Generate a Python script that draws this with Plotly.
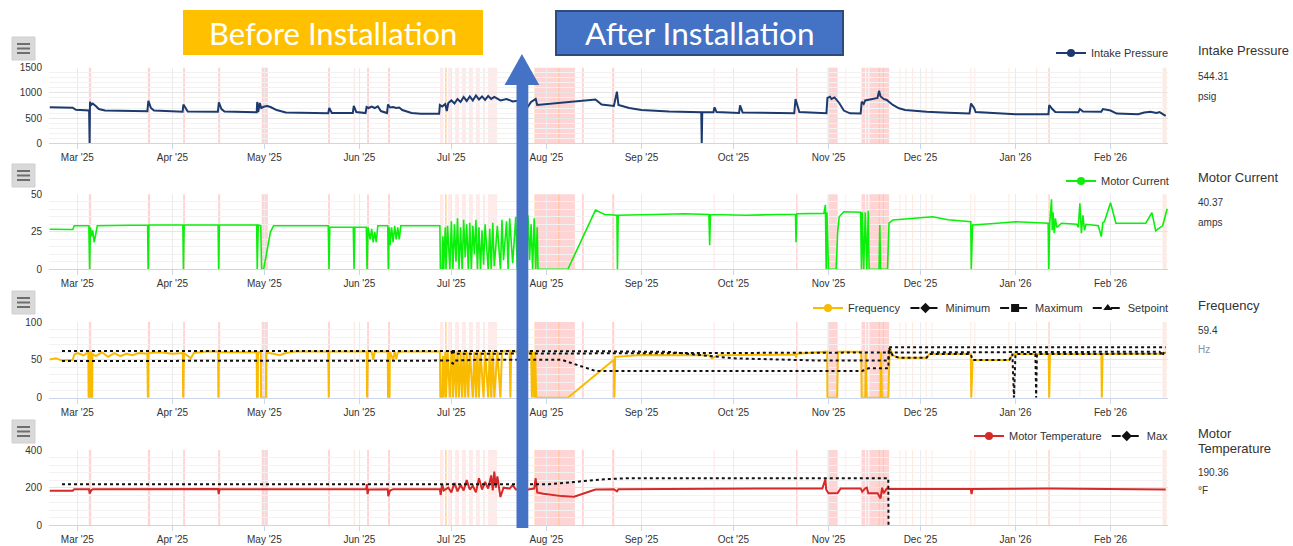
import plotly.graph_objects as go

W, H = 1293, 546
def px(x): return x / W
def py(y): return 1 - y / H

X_RANGE = ["2025-02-19 18:00", "2026-02-19 18:00"]

# ---------------- data ----------------
intake_pressure = [
    ("2025-02-20", 714), ("2025-02-24", 712), ("2025-02-27 12:00", 705), ("2025-02-28 12:00", 665),
    ("2025-03-04", 655), ("2025-03-04 20:00", 650), ("2025-03-05 00:00", 0), ("2025-03-05 03:00", 825),
    ("2025-03-05 12:00", 760), ("2025-03-06", 790), ("2025-03-07", 740), ("2025-03-08", 680),
    ("2025-03-10", 650), ("2025-03-23 20:00", 635), ("2025-03-24 04:00", 840), ("2025-03-25", 700),
    ("2025-03-26", 650), ("2025-04-04 08:00", 625), ("2025-04-04 14:00", 770), ("2025-04-05 12:00", 680),
    ("2025-04-06", 630), ("2025-04-15 20:00", 625), ("2025-04-16 04:00", 810), ("2025-04-17", 680),
    ("2025-04-18", 630), ("2025-04-28 12:00", 615), ("2025-04-28 16:00", 820), ("2025-04-29", 620),
    ("2025-04-29 12:00", 800), ("2025-04-30", 700), ("2025-05-01", 730), ("2025-05-02", 740),
    ("2025-05-03", 720), ("2025-05-05", 660), ("2025-05-08", 610), ("2025-05-21 20:00", 595),
    ("2025-05-22 04:00", 700), ("2025-05-22 16:00", 640), ("2025-05-23", 600), ("2025-05-29 20:00", 600),
    ("2025-05-30 04:00", 740), ("2025-05-31", 620), ("2025-06-03", 600), ("2025-06-03 08:00", 720),
    ("2025-06-04", 700), ("2025-06-05", 730), ("2025-06-06", 700), ("2025-06-07", 735),
    ("2025-06-08", 640), ("2025-06-10", 600), ("2025-06-10 08:00", 770), ("2025-06-11", 710),
    ("2025-06-12", 720), ("2025-06-13", 700), ("2025-06-14", 710), ("2025-06-15", 660),
    ("2025-06-18", 600), ("2025-06-21", 585), ("2025-06-27", 585), ("2025-06-27 06:00", 760),
    ("2025-06-28", 730), ("2025-06-29", 780), ("2025-06-29 12:00", 640), ("2025-06-30", 800),
    ("2025-07-01", 850), ("2025-07-02", 790), ("2025-07-03", 880), ("2025-07-04", 820),
    ("2025-07-05", 920), ("2025-07-06", 840), ("2025-07-07", 930), ("2025-07-08", 850),
    ("2025-07-09", 950), ("2025-07-10", 870), ("2025-07-11", 930), ("2025-07-12", 860),
    ("2025-07-13", 940), ("2025-07-14", 880), ("2025-07-15", 920), ("2025-07-17", 850),
    ("2025-07-19", 880), ("2025-07-21", 830), ("2025-07-23", 850), ("2025-07-25", 790),
    ("2025-07-26", 730), ("2025-07-27", 820), ("2025-07-28 12:00", 880), ("2025-07-29", 760),
    ("2025-08-17", 870), ("2025-08-19", 770), ("2025-08-23", 740), ("2025-08-24", 1024),
    ("2025-08-24 12:00", 760), ("2025-08-28", 700), ("2025-09-01", 660), ("2025-09-10", 630),
    ("2025-09-20 12:00", 615), ("2025-09-20 16:00", 0), ("2025-09-20 20:00", 615), ("2025-09-24 12:00", 615),
    ("2025-09-24 20:00", 714), ("2025-09-25 12:00", 620), ("2025-10-02 20:00", 600), ("2025-10-03 04:00", 754),
    ("2025-10-04", 610), ("2025-10-20 20:00", 595), ("2025-10-21 06:00", 879), ("2025-10-22 12:00", 620),
    ("2025-10-31 08:00", 595), ("2025-10-31 16:00", 900), ("2025-11-01 12:00", 925), ("2025-11-02", 880),
    ("2025-11-03", 910), ("2025-11-04 12:00", 800), ("2025-11-06", 650), ("2025-11-08", 595),
    ("2025-11-11 12:00", 590), ("2025-11-11 20:00", 825), ("2025-11-12 12:00", 780), ("2025-11-13", 850),
    ("2025-11-14", 860), ("2025-11-16", 880), ("2025-11-17", 900), ("2025-11-17 12:00", 1040),
    ("2025-11-18", 930), ("2025-11-19", 880), ("2025-11-20", 860), ("2025-11-22", 760),
    ("2025-11-24", 694), ("2025-11-26", 660), ("2025-11-28", 650), ("2025-12-03", 627),
    ("2025-12-10", 607), ("2025-12-17", 590), ("2025-12-17 12:00", 790), ("2025-12-18 12:00", 700),
    ("2025-12-19", 620), ("2025-12-26", 590), ("2026-01-01", 575), ("2026-01-11 18:00", 575),
    ("2026-01-12", 760), ("2026-01-13", 680), ("2026-01-14", 620), ("2026-01-21 12:00", 615),
    ("2026-01-22", 680), ("2026-01-23", 630), ("2026-01-29", 625), ("2026-01-29 12:00", 680),
    ("2026-02-01", 650), ("2026-02-03", 590), ("2026-02-10", 575), ("2026-02-12", 610),
    ("2026-02-14", 625), ("2026-02-16", 600), ("2026-02-17", 620), ("2026-02-19", 544.31),
]

motor_current = [
    ("2025-02-20", 26.7), ("2025-02-27 12:00", 26.5), ("2025-02-28", 29), ("2025-03-04 18:00", 29),
    ("2025-03-05 00:00", 0), ("2025-03-05 06:00", 28), ("2025-03-05 18:00", 22), ("2025-03-06", 26),
    ("2025-03-06 12:00", 18), ("2025-03-07", 24), ("2025-03-07 12:00", 29), ("2025-03-23 22:00", 29.5),
    ("2025-03-24 02:00", 0), ("2025-03-24 08:00", 29.5), ("2025-04-04 10:00", 29.5), ("2025-04-04 14:00", 0),
    ("2025-04-04 20:00", 29.5), ("2025-04-15 22:00", 29.5), ("2025-04-16 02:00", 0), ("2025-04-16 08:00", 29.5),
    ("2025-04-28 12:00", 29.5), ("2025-04-28 16:00", 0), ("2025-04-29", 29.5), ("2025-04-29 20:00", 29),
    ("2025-04-30 02:00", 0), ("2025-04-30 18:00", 0), ("2025-05-03", 25), ("2025-05-04", 29),
    ("2025-05-21 20:00", 29), ("2025-05-22 02:00", 0), ("2025-05-22 08:00", 28), ("2025-05-30 00:00", 28),
    ("2025-05-30 06:00", 0), ("2025-05-30 12:00", 28), ("2025-06-03 06:00", 28), ("2025-06-03 12:00", 0),
    ("2025-06-03 20:00", 28), ("2025-06-04 12:00", 20), ("2025-06-05", 27), ("2025-06-05 12:00", 18),
    ("2025-06-06", 25), ("2025-06-06 12:00", 18), ("2025-06-07", 29), ("2025-06-10 06:00", 29),
    ("2025-06-10 10:00", 0), ("2025-06-10 18:00", 28), ("2025-06-11", 16), ("2025-06-11 12:00", 28),
    ("2025-06-12", 18), ("2025-06-12 12:00", 29), ("2025-06-13", 20), ("2025-06-13 12:00", 28),
    ("2025-06-14", 20), ("2025-06-14 12:00", 29), ("2025-06-27 06:00", 29), ("2025-06-27 10:00", 0),
    ("2025-06-28", 0), ("2025-06-28 06:00", 22), ("2025-06-28 12:00", 0), ("2025-06-29", 28),
    ("2025-06-29 06:00", 0), ("2025-06-29 18:00", 29), ("2025-06-30 12:00", 0), ("2025-07-01", 32),
    ("2025-07-01 12:00", 0), ("2025-07-02", 30), ("2025-07-02 12:00", 5), ("2025-07-03", 34),
    ("2025-07-03 12:00", 0), ("2025-07-04", 28), ("2025-07-04 12:00", 0), ("2025-07-05", 33),
    ("2025-07-05 12:00", 8), ("2025-07-06", 30), ("2025-07-06 12:00", 0), ("2025-07-07", 31),
    ("2025-07-07 12:00", 0), ("2025-07-08", 29), ("2025-07-08 12:00", 10), ("2025-07-09", 33),
    ("2025-07-09 12:00", 0), ("2025-07-10", 28), ("2025-07-10 12:00", 0), ("2025-07-11", 26),
    ("2025-07-11 12:00", 3), ("2025-07-12", 30), ("2025-07-13", 0), ("2025-07-13 12:00", 27),
    ("2025-07-14", 0), ("2025-07-14 12:00", 31), ("2025-07-15", 2), ("2025-07-16", 29),
    ("2025-07-17", 0), ("2025-07-17 12:00", 33), ("2025-07-18", 6), ("2025-07-19", 32),
    ("2025-07-19 12:00", 0), ("2025-07-20", 34), ("2025-07-21", 4), ("2025-07-22", 35),
    ("2025-07-22 12:00", 0), ("2025-07-23", 30), ("2025-07-24", 2), ("2025-07-24 12:00", 33),
    ("2025-07-25", 0), ("2025-07-26", 36), ("2025-07-26 12:00", 6), ("2025-07-27", 30),
    ("2025-07-27 12:00", 0), ("2025-07-28", 34), ("2025-07-28 12:00", 0), ("2025-07-29", 28),
    ("2025-07-29 06:00", 0), ("2025-08-08", 0), ("2025-08-17", 39.5), ("2025-08-20", 36.5),
    ("2025-08-24", 36), ("2025-08-24 04:00", 0), ("2025-08-24 10:00", 36), ("2025-09-05", 36.5),
    ("2025-09-15", 37), ("2025-09-23", 36.5), ("2025-09-23 06:00", 16), ("2025-09-23 12:00", 36.5),
    ("2025-10-05", 36), ("2025-10-15", 36.5), ("2025-10-21 06:00", 36.5), ("2025-10-21 10:00", 18),
    ("2025-10-21 16:00", 37), ("2025-10-30 12:00", 37.3), ("2025-10-31", 43), ("2025-10-31 06:00", 0),
    ("2025-10-31 12:00", 38), ("2025-11-01", 0), ("2025-11-03 12:00", 0), ("2025-11-04", 25),
    ("2025-11-04 12:00", 35), ("2025-11-06", 38.4), ("2025-11-11 12:00", 38), ("2025-11-11 18:00", 0),
    ("2025-11-12", 38), ("2025-11-12 12:00", 0), ("2025-11-13", 38), ("2025-11-13 12:00", 0),
    ("2025-11-14", 39), ("2025-11-14 06:00", 0), ("2025-11-17 12:00", 0), ("2025-11-17 18:00", 29.5),
    ("2025-11-18", 0), ("2025-11-20 06:00", 0), ("2025-11-20 18:00", 30.7), ("2025-11-22", 32.9),
    ("2025-11-28", 34), ("2025-12-05", 35), ("2025-12-10", 33), ("2025-12-16", 31.7),
    ("2025-12-17 10:00", 31.7), ("2025-12-17 14:00", 0), ("2025-12-18", 29.5), ("2025-12-25", 30.5),
    ("2026-01-01", 31.7), ("2026-01-11 16:00", 30.7), ("2026-01-11 20:00", 0), ("2026-01-12 04:00", 30),
    ("2026-01-12 18:00", 46.7), ("2026-01-13", 26), ("2026-01-13 06:00", 38), ("2026-01-13 16:00", 24),
    ("2026-01-14", 34), ("2026-01-14 12:00", 28), ("2026-01-16", 30.7), ("2026-01-21", 30),
    ("2026-01-21 12:00", 28), ("2026-01-22", 44), ("2026-01-22 12:00", 24), ("2026-01-23", 36),
    ("2026-01-23 12:00", 26), ("2026-01-24", 30), ("2026-01-28", 29), ("2026-01-29", 21.8),
    ("2026-01-29 12:00", 31), ("2026-01-30", 31.7), ("2026-02-01", 44.4), ("2026-02-02 18:00", 30.7),
    ("2026-02-12 12:00", 30.7), ("2026-02-14 12:00", 37.8), ("2026-02-15 18:00", 25.7), ("2026-02-16 12:00", 27),
    ("2026-02-18", 29), ("2026-02-19 12:00", 40.37),
]

frequency = [
    ("2025-02-20", 50.5), ("2025-02-22", 52), ("2025-02-24", 49), ("2025-02-27 12:00", 50),
    ("2025-02-28", 57), ("2025-03-01", 59), ("2025-03-03", 56), ("2025-03-04 14:00", 60),
    ("2025-03-04 16:00", 0), ("2025-03-05", 0), ("2025-03-05 04:00", 60), ("2025-03-05 12:00", 60),
    ("2025-03-05 14:00", 0), ("2025-03-05 20:00", 0), ("2025-03-05 22:00", 58), ("2025-03-07", 55),
    ("2025-03-09", 60), ("2025-03-11", 54), ("2025-03-13", 59), ("2025-03-15", 55),
    ("2025-03-17", 58), ("2025-03-19", 56), ("2025-03-21", 59), ("2025-03-23 20:00", 58),
    ("2025-03-24", 0), ("2025-03-24 04:00", 59), ("2025-03-28", 60), ("2025-04-01", 58),
    ("2025-04-04 10:00", 59), ("2025-04-04 12:00", 0), ("2025-04-04 18:00", 59), ("2025-04-07", 52),
    ("2025-04-08", 59), ("2025-04-12", 61), ("2025-04-15 22:00", 61), ("2025-04-16", 0),
    ("2025-04-16 04:00", 60), ("2025-04-22", 60), ("2025-04-28 12:00", 60), ("2025-04-28 14:00", 0),
    ("2025-04-28 20:00", 0), ("2025-04-28 22:00", 60), ("2025-04-29 20:00", 60), ("2025-04-29 22:00", 0),
    ("2025-05-01 12:00", 0), ("2025-05-01 14:00", 60), ("2025-05-04", 58), ("2025-05-06", 56),
    ("2025-05-08", 59), ("2025-05-11", 61), ("2025-05-21 20:00", 61), ("2025-05-22", 0),
    ("2025-05-22 04:00", 61), ("2025-06-03 10:00", 61), ("2025-06-03 12:00", 0), ("2025-06-03 18:00", 61),
    ("2025-06-05", 61), ("2025-06-05 12:00", 50), ("2025-06-06", 61), ("2025-06-10 06:00", 61),
    ("2025-06-10 08:00", 0), ("2025-06-10 20:00", 0), ("2025-06-10 22:00", 61), ("2025-06-12", 50),
    ("2025-06-12 12:00", 61), ("2025-06-13", 51), ("2025-06-13 12:00", 60), ("2025-06-15", 61),
    ("2025-06-27 06:00", 61), ("2025-06-27 10:00", 0), ("2025-06-28", 0), ("2025-06-28 06:00", 55),
    ("2025-06-28 12:00", 0), ("2025-06-29", 61), ("2025-06-29 06:00", 0), ("2025-06-29 18:00", 62),
    ("2025-06-30 12:00", 0), ("2025-07-01", 62), ("2025-07-01 08:00", 56), ("2025-07-01 12:00", 0),
    ("2025-07-02", 61), ("2025-07-02 12:00", 0), ("2025-07-03", 62), ("2025-07-03 12:00", 0),
    ("2025-07-04", 61), ("2025-07-04 12:00", 0), ("2025-07-05", 62), ("2025-07-05 12:00", 0),
    ("2025-07-06", 61), ("2025-07-06 12:00", 0), ("2025-07-07", 62), ("2025-07-08", 0),
    ("2025-07-08 12:00", 61), ("2025-07-09", 0), ("2025-07-09 12:00", 62), ("2025-07-10", 0),
    ("2025-07-10 12:00", 61), ("2025-07-11 12:00", 0), ("2025-07-12", 62), ("2025-07-13", 0),
    ("2025-07-13 12:00", 61), ("2025-07-14", 0), ("2025-07-14 12:00", 62), ("2025-07-15", 0),
    ("2025-07-16", 62), ("2025-07-17", 0), ("2025-07-17 12:00", 61), ("2025-07-20", 62),
    ("2025-07-20 06:00", 0), ("2025-07-20 12:00", 61), ("2025-07-24", 61), ("2025-07-24 06:00", 0),
    ("2025-07-24 12:00", 61), ("2025-07-27", 61), ("2025-07-27 06:00", 0), ("2025-07-27 12:00", 61),
    ("2025-07-28", 0), ("2025-07-28 08:00", 61), ("2025-07-28 16:00", 0), ("2025-08-08", 0),
    ("2025-08-23", 50), ("2025-08-23 04:00", 0), ("2025-08-23 10:00", 54), ("2025-08-26", 54.5),
    ("2025-09-01", 56.4), ("2025-09-23", 56), ("2025-09-24", 52), ("2025-09-26", 56),
    ("2025-10-21 06:00", 57), ("2025-10-21 10:00", 53), ("2025-10-21 16:00", 58), ("2025-10-31 14:00", 60.8),
    ("2025-10-31 16:00", 0), ("2025-11-03 20:00", 0), ("2025-11-04 02:00", 60.8), ("2025-11-11 16:00", 60.8),
    ("2025-11-11 20:00", 0), ("2025-11-13", 0), ("2025-11-13 04:00", 60.8), ("2025-11-13 10:00", 0),
    ("2025-11-18", 0), ("2025-11-18 04:00", 60.8), ("2025-11-18 10:00", 0), ("2025-11-20 12:00", 0),
    ("2025-11-21", 66), ("2025-11-22", 56), ("2025-11-24", 52.8), ("2025-12-03", 52.8),
    ("2025-12-04", 57.7), ("2025-12-17 10:00", 57.7), ("2025-12-17 14:00", 0), ("2025-12-18", 49.8),
    ("2025-12-30", 49.8), ("2025-12-31", 57.7), ("2026-01-11 20:00", 57.7), ("2026-01-12", 0),
    ("2026-01-12 06:00", 57.7), ("2026-01-29", 57.7), ("2026-01-29 04:00", 0), ("2026-01-29 10:00", 57.7),
    ("2026-02-17", 58), ("2026-02-19", 59.4),
]

freq_minimum = [
    ("2025-02-24", 48.5), ("2025-06-06", 48.5), ("2025-06-30", 49), ("2025-07-01 12:00", 45),
    ("2025-07-02", 49), ("2025-07-09", 50), ("2025-08-06", 50), ("2025-08-17", 35.3),
    ("2025-11-12", 35.3), ("2025-11-14", 38.8), ("2025-11-20 12:00", 38.8), ("2025-11-20 18:00", 66),
    ("2025-11-22", 55), ("2025-11-24", 52.8), ("2025-12-03", 52.8), ("2025-12-04", 57.7),
    ("2025-12-17 10:00", 57.7), ("2025-12-18", 49.8), ("2025-12-30", 49.8), ("2025-12-31", 57.7),
    ("2025-12-31 12:00", 0), ("2026-01-01", 57.7), ("2026-01-07 12:00", 57.7), ("2026-01-07 18:00", 0),
    ("2026-01-08", 57.7), ("2026-02-17", 58), ("2026-02-19", 59.4),
]

freq_maximum = [
    ("2025-02-24", 61.7), ("2025-07-01", 61.7), ("2025-08-15", 61.5), ("2025-09-10", 60.5),
    ("2025-10-01", 52), ("2025-10-30", 49), ("2025-11-20 12:00", 49), ("2025-11-20 18:00", 66.6),
    ("2026-02-19", 66.6),
]

freq_setpoint = [
    ("2025-07-01", 62), ("2025-07-01 08:00", 57), ("2025-07-01 16:00", 61), ("2025-07-02", 58),
    ("2026-02-17", 60.8), ("2026-02-18", 56), ("2026-02-18 12:00", 61), ("2026-02-19", 59),
]

motor_temperature = [
    ("2025-02-20", 184), ("2025-02-27 12:00", 184), ("2025-02-28", 192), ("2025-03-04 20:00", 192),
    ("2025-03-05", 168), ("2025-03-05 12:00", 185), ("2025-03-06", 192), ("2025-04-15 22:00", 193),
    ("2025-04-16 02:00", 166), ("2025-04-16 10:00", 192), ("2025-06-03 06:00", 192), ("2025-06-03 10:00", 219),
    ("2025-06-03 16:00", 166), ("2025-06-04", 190), ("2025-06-10 06:00", 192), ("2025-06-10 10:00", 155),
    ("2025-06-11", 185), ("2025-06-12", 192), ("2025-06-27 06:00", 192), ("2025-06-27 12:00", 161),
    ("2025-06-28", 219), ("2025-06-28 12:00", 185), ("2025-06-30", 200), ("2025-07-01", 175),
    ("2025-07-02", 225), ("2025-07-03", 180), ("2025-07-04", 215), ("2025-07-05", 185),
    ("2025-07-06", 240), ("2025-07-07", 190), ("2025-07-08", 210), ("2025-07-09", 175),
    ("2025-07-10", 250), ("2025-07-11", 190), ("2025-07-12", 230), ("2025-07-13", 195),
    ("2025-07-14", 265), ("2025-07-14 12:00", 185), ("2025-07-15", 285), ("2025-07-15 12:00", 200),
    ("2025-07-16", 260), ("2025-07-17", 150), ("2025-07-18", 200), ("2025-07-20", 195),
    ("2025-07-21", 215), ("2025-07-22", 190), ("2025-07-24", 193), ("2025-07-26", 190),
    ("2025-07-28", 195), ("2025-07-28 12:00", 250), ("2025-07-29", 175), ("2025-07-31", 168),
    ("2025-08-06", 155), ("2025-08-10", 152), ("2025-08-17", 190), ("2025-08-23", 192),
    ("2025-08-24", 180), ("2025-08-24 12:00", 192), ("2025-10-30", 196), ("2025-10-31", 244),
    ("2025-10-31 06:00", 190), ("2025-11-01", 170), ("2025-11-04", 172), ("2025-11-05", 196),
    ("2025-11-11 12:00", 196), ("2025-11-12", 178), ("2025-11-13", 196), ("2025-11-13 12:00", 200),
    ("2025-11-14", 170), ("2025-11-17", 170), ("2025-11-18", 143), ("2025-11-18 12:00", 200),
    ("2025-11-19", 170), ("2025-11-20", 195), ("2025-11-20 12:00", 193), ("2025-12-17 10:00", 193),
    ("2025-12-17 16:00", 166), ("2025-12-18", 193), ("2026-01-12", 196), ("2026-02-19", 190.36),
]

temp_max = [
    ("2025-02-24", 218), ("2025-08-01", 218), ("2025-08-10", 230), ("2025-08-20", 245),
    ("2025-08-28", 250), ("2025-11-20 12:00", 250), ("2025-11-20 14:00", 0),
]

# event bands: (start, end, kind)
events = [
    ("2025-03-04 18:00", "2025-03-05 12:00", "pink"), ("2025-03-24 00:00", "2025-03-24 18:00", "pink"),
    ("2025-04-04 12:00", "2025-04-05 03:00", "pink"), ("2025-04-15 22:00", "2025-04-16 14:00", "pink"),
    ("2025-04-30 03:00", "2025-05-02 03:00", "pink"), ("2025-05-21 19:00", "2025-05-22 10:00", "pink"),
    ("2025-05-30 03:00", "2025-05-30 15:00", "light"), ("2025-06-03 12:00", "2025-06-04 03:00", "pink"),
    ("2025-06-10 08:00", "2025-06-11 00:00", "pink"), ("2025-06-27 07:00", "2025-06-28 10:00", "light"),
    ("2025-06-28 22:00", "2025-06-29 12:00", "orange"), ("2025-06-29 22:00", "2025-07-01 05:00", "light"),
    ("2025-07-02 05:00", "2025-07-03 12:00", "light"), ("2025-07-04 10:00", "2025-07-05 19:00", "light"),
    ("2025-07-06 17:00", "2025-07-08 00:00", "light"), ("2025-07-09 00:00", "2025-07-10 07:00", "light"),
    ("2025-07-11 07:00", "2025-07-12 00:00", "light"), ("2025-07-12 22:00", "2025-07-15 22:00", "light"),
    ("2025-07-28 02:00", "2025-07-28 14:00", "orange"), ("2025-07-28 14:00", "2025-08-10 07:00", "pink"),
    ("2025-08-04 22:00", "2025-08-05 05:00", "orange"), ("2025-08-12 14:00", "2025-08-13 05:00", "pink"),
    ("2025-08-22 10:00", "2025-08-23 03:00", "pink"), ("2025-09-24 12:00", "2025-09-24 22:00", "light"),
    ("2025-10-21 10:00", "2025-10-21 22:00", "pink"), ("2025-10-31 17:00", "2025-11-04 00:00", "pink"),
    ("2025-11-06 12:00", "2025-11-06 19:00", "light"), ("2025-11-11 19:00", "2025-11-13 00:00", "pink"),
    ("2025-11-13 08:00", "2025-11-14 00:00", "pink"), ("2025-11-14 08:00", "2025-11-20 19:00", "pink"),
    ("2025-11-17 10:00", "2025-11-17 16:00", "orange"), ("2025-11-18 18:00", "2025-11-19 00:00", "orange"),
    ("2025-11-24 04:00", "2025-11-24 12:00", "salmon"), ("2025-11-26 02:00", "2025-11-26 10:00", "salmon"),
    ("2025-11-28 06:00", "2025-11-28 14:00", "salmon"), ("2025-12-02 16:00", "2025-12-03 00:00", "salmon"),
    ("2025-12-04 14:00", "2025-12-04 22:00", "salmon"), ("2025-12-17 06:00", "2025-12-17 14:00", "salmon"),
    ("2025-12-18 14:00", "2025-12-18 22:00", "salmon"), ("2025-12-29 16:00", "2025-12-30 00:00", "salmon"),
    ("2026-01-07 18:00", "2026-01-08 02:00", "salmon"), ("2026-01-11 18:00", "2026-01-12 04:00", "salmon2"),
    ("2026-01-21 20:00", "2026-01-22 04:00", "light"), ("2026-02-18 00:00", "2026-02-19 07:00", "salmon"),
]

band_colors = {
    "pink": "rgba(255,60,60,0.22)",
    "light": "rgba(255,60,60,0.11)",
    "orange": "rgba(255,160,40,0.40)",
    "salmon": "rgba(255,120,60,0.16)",
    "salmon2": "rgba(255,110,50,0.35)",
}

panels = [
    dict(title=["Intake Pressure"], value="544.31", unit="psig", top=67.7, bottom=143.3,
         ymax=1500, dtick=500, minor=100, title_y=[50], value_y=77, unit_y=96, legend_y=53, menu_y=37),
    dict(title=["Motor Current"], value="40.37", unit="amps", top=194.3, bottom=269.3,
         ymax=50, dtick=25, minor=5, title_y=[178], value_y=202, unit_y=222, legend_y=181, menu_y=164),
    dict(title=["Frequency"], value="59.4", unit="Hz", top=322, bottom=397.7,
         ymax=100, dtick=50, minor=10, title_y=[305], value_y=330, unit_y=349, legend_y=308, menu_y=291),
    dict(title=["Motor", "Temperature"], value="190.36", unit="°F", top=450, bottom=525.3,
         ymax=400, dtick=200, minor=40, title_y=[433, 448], value_y=472, unit_y=490, legend_y=436, menu_y=420),
]

# series: (data, panel index, name, color, width, dash, legend symbol)
series = [
    (intake_pressure, 1, "Intake Pressure", "#1c3a6e", 2, "solid", "circle"),
    (motor_current, 2, "Motor Current", "#0af00a", 1.6, "solid", "circle"),
    (frequency, 3, "Frequency", "#f8bb00", 2, "solid", "circle"),
    (freq_minimum, 3, "Minimum", "#111111", 2, "dot", "diamond"),
    (freq_maximum, 3, "Maximum", "#111111", 2, "dot", "square"),
    (freq_setpoint, 3, "Setpoint", "#111111", 2, "dot", "triangle-up"),
    (motor_temperature, 4, "Motor Temperature", "#d42a2a", 2, "solid", "circle"),
    (temp_max, 4, "Max", "#111111", 2, "dot", "diamond"),
]

FONT = "Liberation Sans, Arial, sans-serif"

fig = go.Figure()
for data, p, name, color, width, dash, sym in series:
    xs = [d for d, v in data]
    ys = [v for d, v in data]
    sfx = "" if p == 1 else str(p)
    fig.add_trace(go.Scatter(x=xs, y=ys, mode="lines", name=name, showlegend=False,
                             line=dict(color=color, width=width, dash=dash),
                             xaxis="x" + sfx, yaxis="y" + sfx, hoverinfo="skip"))
    fig.add_trace(go.Scatter(x=[None], y=[None], mode="lines+markers", name=name,
                             line=dict(color=color, width=2, dash="dash" if dash != "solid" else "solid"),
                             marker=dict(color=color, size=8, symbol=sym),
                             xaxis="x" + sfx, yaxis="y" + sfx,
                             legend="legend" if p == 1 else "legend" + str(p)))

layout = dict(
    width=W, height=H, autosize=False,
    margin=dict(l=0, r=0, t=0, b=0, pad=0, autoexpand=False),
    paper_bgcolor="white", plot_bgcolor="white",
    font=dict(family=FONT, color="#333333", size=11),
    shapes=[], annotations=[],
)

for i, p in enumerate(panels, start=1):
    sfx = "" if i == 1 else str(i)
    ydom = [py(p["bottom"]), py(p["top"])]
    layout["xaxis" + sfx] = dict(
        domain=[px(49), px(1168)], anchor="y" + sfx, type="date", range=X_RANGE,
        tickformat="%b '%y", dtick="M1", tick0="2025-03-01",
        showgrid=True, gridcolor="#ebebeb", gridwidth=1,
        showline=True, linecolor="#ccd6eb", linewidth=1,
        ticks="outside", ticklen=5, tickcolor="#ccd6eb", automargin=False,
        tickfont=dict(size=10, color="#333333", family=FONT), fixedrange=True,
    )
    layout["yaxis" + sfx] = dict(
        domain=ydom, anchor="x" + sfx, range=[0, p["ymax"]], dtick=p["dtick"],
        showgrid=True, gridcolor="#e6e6e6", zeroline=False, showline=False, automargin=False,
        minor=dict(dtick=p["minor"], showgrid=True, gridcolor="#f2f2f2"),
        tickfont=dict(size=10, color="#333333", family=FONT), ticklabelstandoff=6,
        fixedrange=True,
    )
    for s, e, kind in events:
        layout["shapes"].append(dict(type="rect", xref="x" + sfx, yref="y" + sfx + " domain",
                                     x0=s, x1=e, y0=0, y1=1, fillcolor=band_colors[kind],
                                     line=dict(width=0), layer="below"))
    leg = dict(orientation="h", x=px(1174), xanchor="right", y=py(p["legend_y"]), yanchor="middle",
               font=dict(size=11, color="#333333", family=FONT), bgcolor="rgba(0,0,0,0)",
               itemwidth=30, tracegroupgap=0)
    layout["legend" if i == 1 else "legend" + str(i)] = leg
    for t, ty in zip(p["title"], p["title_y"]):
        layout["annotations"].append(dict(text=t, xref="paper", yref="paper", x=px(1196), y=py(ty),
                                          xanchor="left", yanchor="middle", showarrow=False,
                                          font=dict(size=13, color="#333333", family=FONT)))
    layout["annotations"].append(dict(text=p["value"], xref="paper", yref="paper", x=px(1196), y=py(p["value_y"]),
                                      xanchor="left", yanchor="middle", showarrow=False,
                                      font=dict(size=10, color="#333333", family=FONT)))
    layout["annotations"].append(dict(text=p["unit"], xref="paper", yref="paper", x=px(1196), y=py(p["unit_y"]),
                                      xanchor="left", yanchor="middle", showarrow=False,
                                      font=dict(size=10, color="#8592a6" if p["unit"] == "Hz" else "#333333",
                                                family=FONT)))
    my = p["menu_y"]
    layout["shapes"].append(dict(type="rect", xref="paper", yref="paper", x0=px(12), x1=px(35),
                                 y0=py(my + 23), y1=py(my), fillcolor="#d9d9d9",
                                 line=dict(color="#cfcfcf", width=1), layer="above"))
    for dy in (7, 11.5, 16):
        layout["shapes"].append(dict(type="line", xref="paper", yref="paper", x0=px(17), x1=px(30),
                                     y0=py(my + dy), y1=py(my + dy),
                                     line=dict(color="#6e6e6e", width=2), layer="above"))

# Before / After boxes
layout["shapes"].append(dict(type="rect", xref="paper", yref="paper", x0=px(183), x1=px(483),
                             y0=py(55), y1=py(10), fillcolor="#ffc000", line=dict(width=0), layer="above"))
layout["shapes"].append(dict(type="rect", xref="paper", yref="paper", x0=px(556), x1=px(843),
                             y0=py(55), y1=py(11), fillcolor="#4472c4",
                             line=dict(color="#2f4b7c", width=2), layer="above"))
layout["annotations"].append(dict(text="Before Installation", xref="paper", yref="paper", x=px(333), y=py(33),
                                  xanchor="center", yanchor="middle", showarrow=False,
                                  font=dict(size=31, color="white", family="Lato, Open Sans, sans-serif")))
layout["annotations"].append(dict(text="After Installation", xref="paper", yref="paper", x=px(700), y=py(33),
                                  xanchor="center", yanchor="middle", showarrow=False,
                                  font=dict(size=31.5, color="white", family="Lato, Open Sans, sans-serif")))

# big upward arrow
path = "M {} {} L {} {} L {} {} L {} {} L {} {} L {} {} L {} {} Z".format(
    px(516.5), py(528), px(528.3), py(528), px(528.3), py(85), px(539.3), py(85),
    px(521.9), py(54), px(504.6), py(85), px(516.5), py(85))
layout["shapes"].append(dict(type="path", xref="paper", yref="paper", path=path,
                             fillcolor="#4472c4", line=dict(width=0), layer="above"))

fig.update_layout(**layout)
fig.write_html(
    "out.html",
    config={"displayModeBar": False, "responsive": False},
    post_script=(
        "document.documentElement.style.margin='0';document.documentElement.style.overflow='hidden';"
        "document.body.style.margin='0';document.body.style.overflow='hidden';"
        "var g=document.getElementById('{plot_id}');g.style.position='fixed';g.style.left='0px';"
        "g.style.top='0px';"
    ),
)
